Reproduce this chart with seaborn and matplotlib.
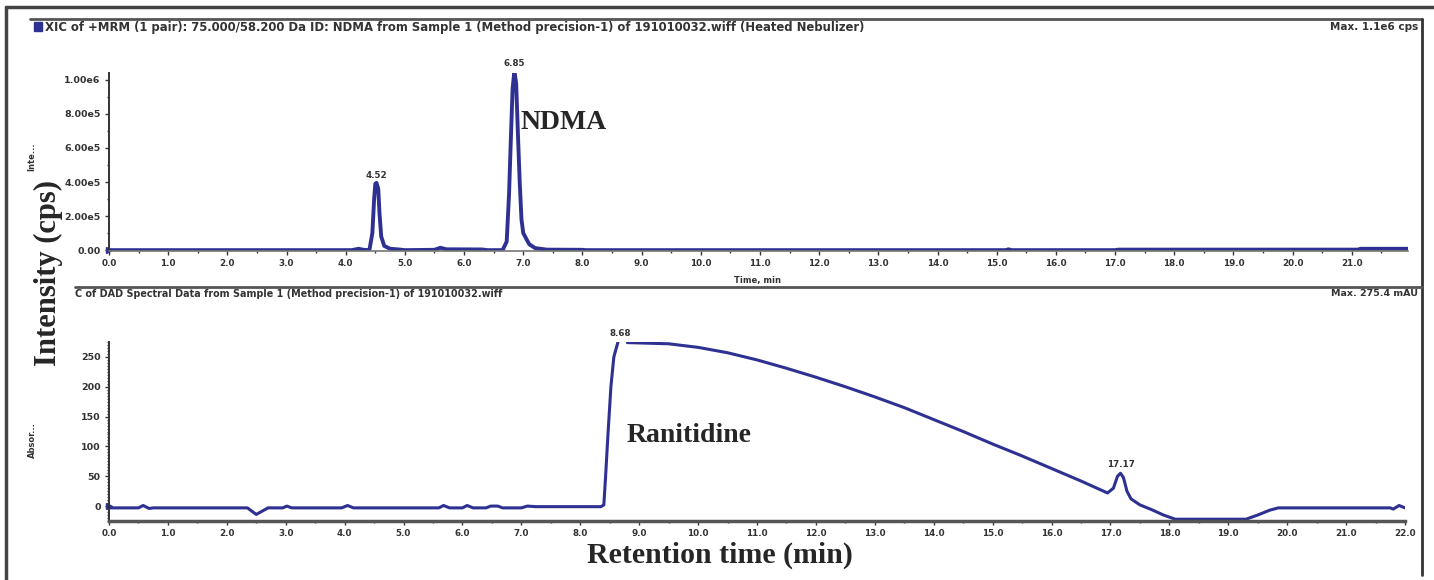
import numpy as np
import pandas as pd
import matplotlib
matplotlib.use("Agg")
import matplotlib.pyplot as plt
from matplotlib.lines import Line2D
from matplotlib.patches import Rectangle
from matplotlib.ticker import MultipleLocator, FixedLocator, FixedFormatter, FormatStrFormatter
import seaborn as sns

# --- NDMA XIC trace (time in min, intensity in cps) ---
xic_time = [0.0, 4.10, 4.22, 4.30, 4.40, 4.45, 4.48, 4.50, 4.52, 4.55, 4.57, 4.60, 4.65,
            4.75, 4.90, 5.00, 5.50, 5.60, 5.70, 6.30, 6.40, 6.65, 6.72, 6.76, 6.79, 6.82,
            6.85, 6.88, 6.91, 6.94, 6.97, 7.00, 7.10, 7.20, 7.40, 8.00, 8.05, 15.15, 15.20,
            15.25, 17.00, 17.05, 21.10, 21.15, 21.95]
xic_cps = [0, 0, 8e3, 2e3, 0, 1.0e5, 3.0e5, 3.9e5, 3.95e5, 3.6e5, 2.2e5, 8e4, 2.5e4,
           8e3, 4e3, 0, 2e3, 1.4e4, 5e3, 4e3, 0, 0, 5e4, 3.3e5, 6.5e5, 9.5e5,
           1.05e6, 9.8e5, 6.8e5, 4.0e5, 1.8e5, 1.0e5, 3.5e4, 1.2e4, 3e3, 2e3, 0, 0, 5e3,
           0, 0, 3e3, 3e3, 8e3, 8e3]

# --- DAD trace (mAU): baseline + ranitidine rise, then the decay segment ---
dad_time_a = [0.0, 0.50, 0.58, 0.68, 0.75, 2.35, 2.50, 2.70, 2.95, 3.02, 3.10, 3.95, 4.05,
              4.15, 5.60, 5.68, 5.78, 6.00, 6.08, 6.18, 6.40, 6.48, 6.60, 6.68, 7.00, 7.10,
              7.25, 8.35, 8.40, 8.43, 8.47, 8.52, 8.57, 8.64]
dad_mau_a = [-3, -3, 1, -4, -3, -3, -14, -3, -3, 0, -3, -3, 1,
             -3, -3, 1, -3, -3, 1, -3, -3, 0, 0, -3, -3, 0,
             -1, -1, 2, 50, 120, 200, 250, 275]
dad_time_b = [8.80, 9.50, 10.0, 10.5, 11.0, 11.5, 12.0, 12.5, 13.0, 13.5, 14.0, 14.5, 15.0,
              15.5, 16.0, 16.5, 16.95, 17.05, 17.12, 17.17, 17.22, 17.28, 17.35, 17.50,
              17.70, 17.90, 18.10, 19.30, 19.50, 19.70, 19.85, 21.75, 21.80, 21.90, 22.0]
dad_mau_b = [274, 272, 266, 257, 245, 231, 216, 200, 183, 165, 145, 125, 104,
             84, 63, 42, 22, 30, 50, 55, 48, 25, 12, 2,
             -6, -15, -22, -22, -15, -7, -3, -3, -5, 1, -3]

top_yticks = [0, 2e5, 4e5, 6e5, 8e5, 1e6]
top_ylabels = ["0.00", "2.00e5", "4.00e5", "6.00e5", "8.00e5", "1.00e6"]

xic = pd.DataFrame({"time": xic_time, "cps": xic_cps})
dad = pd.DataFrame({
    "time": dad_time_a + dad_time_b,
    "mau": dad_mau_a + dad_mau_b,
    "seg": ["a"] * len(dad_time_a) + ["b"] * len(dad_time_b),
})

sns.set_style("white")
plt.rcParams["font.family"] = ["DejaVu Sans"]

W, H = 1434, 580
fig = plt.figure(figsize=(W / 100, H / 100), dpi=100)
blue = "#2E3192"
tick_col = "#333333"


def box(l, t, r, b):
    return [l / W, 1 - b / H, (r - l) / W, (b - t) / H]


# top panel
ax1 = fig.add_axes(box(109, 73, 1408, 251))
sns.lineplot(data=xic, x="time", y="cps", ax=ax1, color=blue, lw=2.8, sort=False)
ax1.set_xlim(0, 21.95)
ax1.set_ylim(-5e3, 1.04e6)
ax1.yaxis.set_major_locator(FixedLocator(top_yticks))
ax1.yaxis.set_major_formatter(FixedFormatter(top_ylabels))
ax1.yaxis.set_minor_locator(MultipleLocator(1e5))

# bottom panel
ax2 = fig.add_axes(box(109, 342, 1405, 521))
sns.lineplot(data=dad, x="time", y="mau", units="seg", estimator=None, ax=ax2,
             color=blue, lw=2.2, sort=False)
ax2.set_xlim(0, 22)
ax2.set_ylim(-25, 275)
ax2.yaxis.set_major_locator(MultipleLocator(50))
ax2.yaxis.set_minor_locator(MultipleLocator(5))

for ax in (ax1, ax2):
    sns.despine(ax=ax)
    ax.set_xlabel("")
    ax.set_ylabel("")
    ax.xaxis.set_major_locator(MultipleLocator(1))
    ax.xaxis.set_minor_locator(MultipleLocator(0.5))
    ax.xaxis.set_major_formatter(FormatStrFormatter("%.1f"))
    ax.tick_params(which="both", direction="out", colors=tick_col, labelsize=6.3,
                   width=1, pad=3, bottom=True, left=True)
    ax.tick_params(axis="y", labelsize=6.8)
    ax.tick_params(which="major", length=3)
    ax.tick_params(which="minor", length=1.5)
    for lab in ax.get_xticklabels() + ax.get_yticklabels():
        lab.set_fontweight("bold")
    ax.spines["left"].set_color("#333333")
    ax.spines["left"].set_linewidth(1.4)
    ax.patch.set_alpha(0)
    # baseline marker on the y axis
    ax.plot([0], [0], marker=">", color=blue, ms=4, clip_on=False,
            transform=ax.get_yaxis_transform())
ax1.spines["bottom"].set_color("#777777")
ax1.spines["bottom"].set_linewidth(1.2)
ax2.spines["bottom"].set_color("#555555")
ax2.spines["bottom"].set_linewidth(2.5)

# peak labels
small = dict(ha="center", va="bottom", fontsize=6.3, color=tick_col, fontweight="bold")
ax1.text(4.52, 4.1e5, "4.52", **small)
ax1.text(6.85, 1.07e6, "6.85", **small)
ax2.text(8.68, 282, "8.68", **small)
ax2.text(17.17, 62, "17.17", **small)

serif = ["Liberation Serif", "DejaVu Serif"]
ax1.text(6.95, 7.5e5, "NDMA", fontsize=20, fontweight="bold", family=serif, va="center")
ax2.text(8.78, 118, "Ranitidine", fontsize=20, fontweight="bold", family=serif, va="center")
fig.text(48 / W, 1 - 273 / H, "Intensity (cps)", rotation=90, fontsize=22,
         fontweight="bold", family=serif, ha="center", va="center")
fig.text(720 / W, 1 - 555 / H, "Retention time (min)", fontsize=21.5,
         fontweight="bold", family=serif, ha="center", va="center")
fig.text(758 / W, 1 - 280 / H, "Time, min", fontsize=6, color=tick_col,
         fontweight="bold", ha="center", va="center")

# headers
fig.text(45 / W, 1 - 27 / H,
         "XIC of +MRM (1 pair): 75.000/58.200 Da ID: NDMA from Sample 1 "
         "(Method precision-1) of 191010032.wiff (Heated Nebulizer)",
         fontsize=8.4, color=tick_col, fontweight="bold", va="center")
fig.text(1418 / W, 1 - 27 / H, "Max. 1.1e6 cps", fontsize=7.5, color=tick_col,
         fontweight="bold", ha="right", va="center")
fig.text(75 / W, 1 - 294 / H,
         "C of DAD Spectral Data from Sample 1 (Method precision-1) of 191010032.wiff",
         fontsize=6.9, color=tick_col, fontweight="bold", va="center")
fig.text(1418 / W, 1 - 294 / H, "Max. 275.4 mAU", fontsize=6.8, color=tick_col,
         fontweight="bold", ha="right", va="center")
fig.text(32 / W, 1 - 157 / H, "Inte...", rotation=90, fontsize=6, color=tick_col,
         fontweight="bold", ha="center", va="center")
fig.text(32 / W, 1 - 440 / H, "Absor...", rotation=90, fontsize=6, color=tick_col,
         fontweight="bold", ha="center", va="center")
fig.patches.append(Rectangle((34 / W, 1 - 31 / H), 8 / W, 9 / H, color=blue,
                             transform=fig.transFigure, figure=fig))


# frame lines
def fline(x0, y0, x1, y1, lw, c):
    fig.add_artist(Line2D([x0 / W, x1 / W], [1 - y0 / H, 1 - y1 / H], lw=lw, color=c,
                          transform=fig.transFigure))


fline(6, 7, 6, 580, 2.5, "#444444")
fline(6, 7, 1434, 7, 2.5, "#444444")
fline(30, 19, 1422, 19, 2, "#555555")
fline(1422, 19, 1422, 575, 2, "#333333")
fline(75, 287, 1422, 287, 2, "#555555")

fig.savefig("out.png", dpi=100)
